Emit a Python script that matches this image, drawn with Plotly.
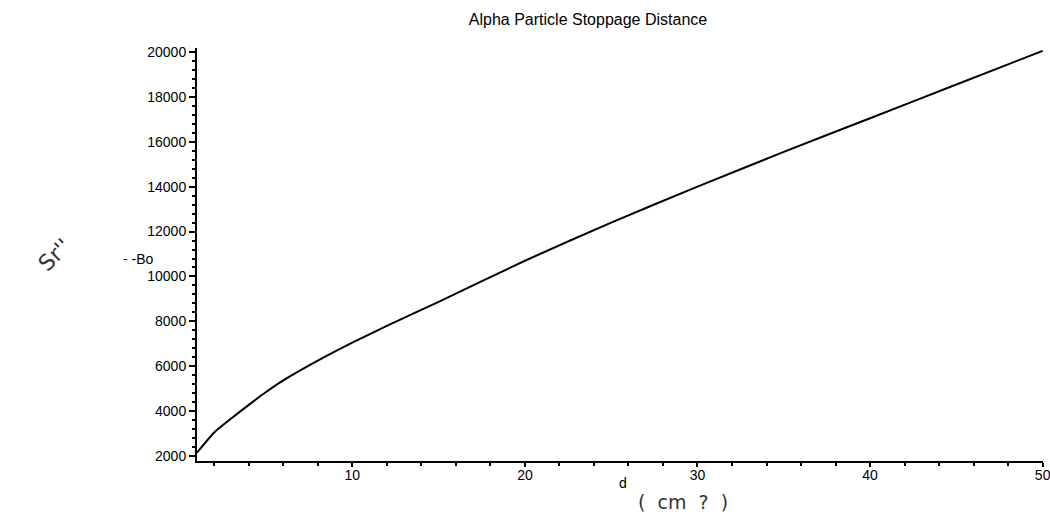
import plotly.graph_objects as go

# Stoppage distance curve: Bo against d
d_values = [1, 2, 3, 4, 5, 6, 8, 10, 12, 15, 20, 25, 30, 35, 40, 45, 50]
bo_values = [2150, 3050, 3680, 4280, 4850, 5370, 6250, 7050, 7800, 8870,
             10700, 12400, 14000, 15550, 17050, 18550, 20050]

x_ticks = [10, 20, 30, 40, 50]
y_ticks = [2000, 4000, 6000, 8000, 10000, 12000, 14000, 16000, 18000, 20000]

title_text = "Alpha Particle Stoppage Distance"
x_label = "d"
y_label = "- -Bo"

FONT = "Liberation Sans, Arial, sans-serif"

fig = go.Figure()
fig.add_trace(go.Scatter(
    x=d_values, y=bo_values, mode="lines",
    line=dict(color="black", width=2, shape="spline", smoothing=0.6),
    showlegend=False, hoverinfo="skip",
))

fig.update_layout(
    width=1050, height=521,
    margin=dict(l=197, r=7, t=48, b=60),
    paper_bgcolor="white", plot_bgcolor="white",
    title=dict(text=title_text, x=0.56, xanchor="center", y=0.962, yanchor="middle",
               font=dict(family=FONT, size=16, color="black")),
    font=dict(family=FONT, color="black"),
)

fig.update_xaxes(
    range=[1, 50.02], tickvals=x_ticks, ticktext=[str(v) for v in x_ticks],
    showgrid=False, zeroline=False, automargin=False,
    showline=True, linecolor="black", linewidth=2,
    ticks="outside", ticklen=4, tickwidth=1.5, tickcolor="black",
    ticklabelstandoff=-4, ticklabeloverflow="allow",
    tickfont=dict(family=FONT, size=14, color="black"),
    minor=dict(dtick=2, ticks="outside", ticklen=3, tickwidth=1.5, tickcolor="black"),
)
fig.update_yaxes(
    range=[1778, 20178], tickvals=y_ticks, ticktext=[str(v) for v in y_ticks],
    showgrid=False, zeroline=False, automargin=False,
    showline=True, linecolor="black", linewidth=2,
    ticks="outside", ticklen=6, tickwidth=1.5, tickcolor="black",
    tickfont=dict(family=FONT, size=14, color="black"),
    minor=dict(dtick=400, ticks="outside", ticklen=3, tickwidth=1.5, tickcolor="black"),
)

# axis labels
fig.add_annotation(text=y_label, xref="paper", yref="paper", x=-0.048, y=0.489,
                   xanchor="right", yanchor="middle", showarrow=False,
                   font=dict(family=FONT, size=14, color="black"))
fig.add_annotation(text=x_label, xref="paper", yref="paper", x=0.503, y=-0.053,
                   xanchor="center", yanchor="middle", showarrow=False,
                   font=dict(family=FONT, size=14, color="black"))

# handwritten notes
fig.add_annotation(text="(  cm  ?  )", xref="paper", yref="paper", x=0.574, y=-0.10,
                   xanchor="center", yanchor="middle", showarrow=False,
                   font=dict(family="DejaVu Sans", size=19, color="#333333"))
fig.add_annotation(text="Sr''", xref="paper", yref="paper", x=-0.168, y=0.50,
                   xanchor="center", yanchor="middle", showarrow=False, textangle=-45,
                   font=dict(family="DejaVu Sans", size=22, color="#333333"))

fig.write_html("out.html")
